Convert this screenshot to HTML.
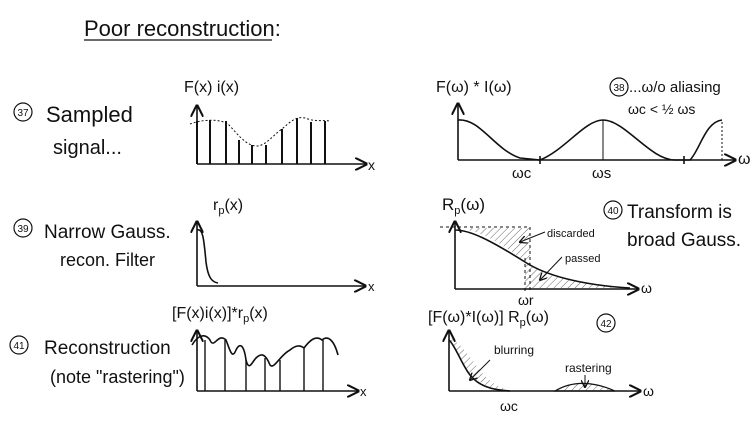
<!DOCTYPE html>
<html><head><meta charset="utf-8"><style>
html,body{margin:0;padding:0;background:#fff;}
svg{display:block;}
text{font-family:"Liberation Sans",sans-serif;fill:#111;}
</style></head><body>
<svg width="755" height="431" viewBox="0 0 755 431" xmlns="http://www.w3.org/2000/svg">
<defs>
<marker id="ar" markerWidth="8" markerHeight="8" refX="7" refY="4" orient="auto"><path d="M0,0 L8,4 L0,8" fill="none" stroke="#111" stroke-width="1.3"/></marker>
<pattern id="h" width="5" height="5" patternUnits="userSpaceOnUse" patternTransform="rotate(45)"><line x1="0" y1="0" x2="0" y2="5" stroke="#555" stroke-width="0.9"/></pattern>
</defs>
<g stroke="#111" fill="none" stroke-width="1.6">
<line x1="84" y1="40" x2="272" y2="40" stroke-width="1.2"/>
<line x1="197" y1="164" x2="197" y2="106" marker-end="url(#ar)"/>
<line x1="197" y1="164" x2="366" y2="164" marker-end="url(#ar)"/>
<g stroke-width="2">
<line x1="197" y1="164" x2="197" y2="121"/><line x1="210" y1="164" x2="210" y2="120"/>
<line x1="226" y1="164" x2="226" y2="121"/><line x1="239" y1="164" x2="239" y2="140"/>
<line x1="252" y1="164" x2="252" y2="145"/><line x1="266" y1="164" x2="266" y2="145"/>
<line x1="282" y1="164" x2="282" y2="129"/><line x1="297" y1="164" x2="297" y2="118"/>
<line x1="311" y1="164" x2="311" y2="122"/><line x1="325" y1="164" x2="325" y2="121"/>
</g>
<path d="M190,124 C200,120 218,118 228,124 C236,132 244,144 255,146 C265,147 272,136 282,129 C290,122 296,116 305,118 C315,122 322,120 330,121" stroke-dasharray="2,2" stroke-width="1"/>
<line x1="458" y1="160" x2="458" y2="104" marker-end="url(#ar)"/>
<line x1="458" y1="160" x2="735" y2="160" marker-end="url(#ar)"/>
<path d="M458,120 C480,118 495,150 520,158 L540,160 C565,150 585,120 603,120 C625,120 650,160 675,160 L690,160 C700,150 705,122 722,120"/>
<line x1="603" y1="120" x2="603" y2="160" stroke-width="1"/>
<line x1="540" y1="156" x2="540" y2="164"/><line x1="684" y1="156" x2="684" y2="164"/>
<line x1="722" y1="122" x2="722" y2="160" stroke-dasharray="2,2" stroke-width="1"/>
<line x1="197" y1="286" x2="197" y2="222" marker-end="url(#ar)"/>
<line x1="197" y1="286" x2="365" y2="286" marker-end="url(#ar)"/>
<path d="M197,230 C203,228 204,240 206,262 C208,278 212,282 218,283"/>
<line x1="455" y1="289" x2="455" y2="222" marker-end="url(#ar)"/>
<line x1="455" y1="289" x2="638" y2="289" marker-end="url(#ar)"/>
<path d="M468,228 L530,228 L530,265 C510,250 490,235 468,230 Z" fill="url(#h)" stroke="none"/>
<path d="M525,262 C545,275 580,285 630,288 L525,288 Z" fill="url(#h)" stroke="none"/>
<path d="M440,227 L530,227 L530,290 M525,258 L525,292" stroke-dasharray="3,3" stroke-width="1"/>
<path d="M455,230 C470,230 490,240 525,262 C545,275 580,285 630,288"/>
<path d="M545,232 L520,242" marker-end="url(#ar)" stroke-width="1"/>
<path d="M562,257 L540,280" marker-end="url(#ar)" stroke-width="1"/>
<line x1="197" y1="391" x2="197" y2="331" marker-end="url(#ar)"/>
<line x1="197" y1="391" x2="358" y2="391" marker-end="url(#ar)"/>
<path d="M192,345 C198,335 205,333 210,340 C214,350 218,332 226,340 C230,350 232,360 236,350 C240,342 244,345 246,360 C249,372 252,362 256,358 C262,352 266,355 270,365 C274,370 280,355 290,350 C296,345 300,345 304,348 C310,340 316,335 322,340 C328,335 334,340 338,355"/>
<g stroke-width="1.4"><line x1="205" y1="391" x2="205" y2="340"/><line x1="225" y1="391" x2="225" y2="340"/><line x1="246" y1="391" x2="246" y2="360"/><line x1="265" y1="391" x2="265" y2="358"/><line x1="280" y1="391" x2="280" y2="360"/><line x1="304" y1="391" x2="304" y2="348"/><line x1="323" y1="391" x2="323" y2="340"/></g>
<line x1="449" y1="391" x2="449" y2="331" marker-end="url(#ar)"/>
<line x1="449" y1="391" x2="640" y2="391" marker-end="url(#ar)"/>
<path d="M449,338 C462,342 472,362 485,376 C495,386 505,390 515,391 L505,391 C490,388 478,382 470,375 C462,365 455,345 449,340 Z" fill="url(#h)" stroke="none"/>
<path d="M555,391 C570,382 590,380 615,391 Z" fill="url(#h)" stroke="#111" stroke-width="1.2"/>
<path d="M449,340 C455,345 462,365 470,375 C478,385 490,390 510,391"/>
<path d="M490,360 L470,380" marker-end="url(#ar)" stroke-width="1"/>
<path d="M585,375 L585,387" marker-end="url(#ar)" stroke-width="1"/>
<circle cx="23" cy="112" r="9" stroke-width="1.2"/><circle cx="23" cy="228" r="9" stroke-width="1.2"/>
<circle cx="19" cy="345" r="9" stroke-width="1.2"/><circle cx="619" cy="87" r="9" stroke-width="1.2"/>
<circle cx="613" cy="210" r="9" stroke-width="1.2"/><circle cx="606" cy="323" r="9" stroke-width="1.2"/>
</g>
<text x="84" y="36" font-size="22">Poor reconstruction:</text>
<text x="23" y="116" font-size="10" text-anchor="middle">37</text>
<text x="46" y="122" font-size="22">Sampled</text>
<text x="53" y="154" font-size="20">signal...</text>
<text x="23" y="232" font-size="10" text-anchor="middle">39</text>
<text x="44" y="238" font-size="19">Narrow Gauss.</text>
<text x="60" y="266" font-size="18">recon. Filter</text>
<text x="19" y="349" font-size="10" text-anchor="middle">41</text>
<text x="44" y="354" font-size="19">Reconstruction</text>
<text x="50" y="383" font-size="18">(note "rastering")</text>
<text x="184" y="92" font-size="16">F(x) i(x)</text>
<text x="368" y="170" font-size="14">x</text>
<text x="213" y="210" font-size="16">r<tspan font-size="11" dy="4">p</tspan><tspan dy="-4">(x)</tspan></text>
<text x="368" y="291" font-size="13">x</text>
<text x="172" y="318" font-size="16">[F(x)i(x)]*r<tspan font-size="11" dy="4">p</tspan><tspan dy="-4">(x)</tspan></text>
<text x="360" y="396" font-size="13">x</text>
<text x="436" y="92" font-size="16">F(ω) * I(ω)</text>
<text x="619" y="91" font-size="10" text-anchor="middle">38</text>
<text x="629" y="92" font-size="15">...ω/o aliasing</text>
<text x="628" y="114" font-size="14">ωc &lt; ½ ωs</text>
<text x="738" y="164" font-size="16">ω</text>
<text x="512" y="178" font-size="15">ωc</text>
<text x="592" y="178" font-size="15">ωs</text>
<text x="442" y="210" font-size="17">R<tspan font-size="11" dy="4">p</tspan><tspan dy="-4">(ω)</tspan></text>
<text x="613" y="214" font-size="10" text-anchor="middle">40</text>
<text x="627" y="218" font-size="19">Transform is</text>
<text x="627" y="246" font-size="19">broad Gauss.</text>
<text x="547" y="237" font-size="11">discarded</text>
<text x="565" y="262" font-size="11">passed</text>
<text x="641" y="293" font-size="14">ω</text>
<text x="518" y="305" font-size="14">ωr</text>
<text x="428" y="322" font-size="16">[F(ω)*I(ω)] R<tspan font-size="11" dy="4">p</tspan><tspan dy="-4">(ω)</tspan></text>
<text x="606" y="327" font-size="10" text-anchor="middle">42</text>
<text x="494" y="354" font-size="12">blurring</text>
<text x="565" y="372" font-size="12">rastering</text>
<text x="643" y="396" font-size="14">ω</text>
<text x="500" y="411" font-size="14">ωc</text>
</svg>
</body></html>
